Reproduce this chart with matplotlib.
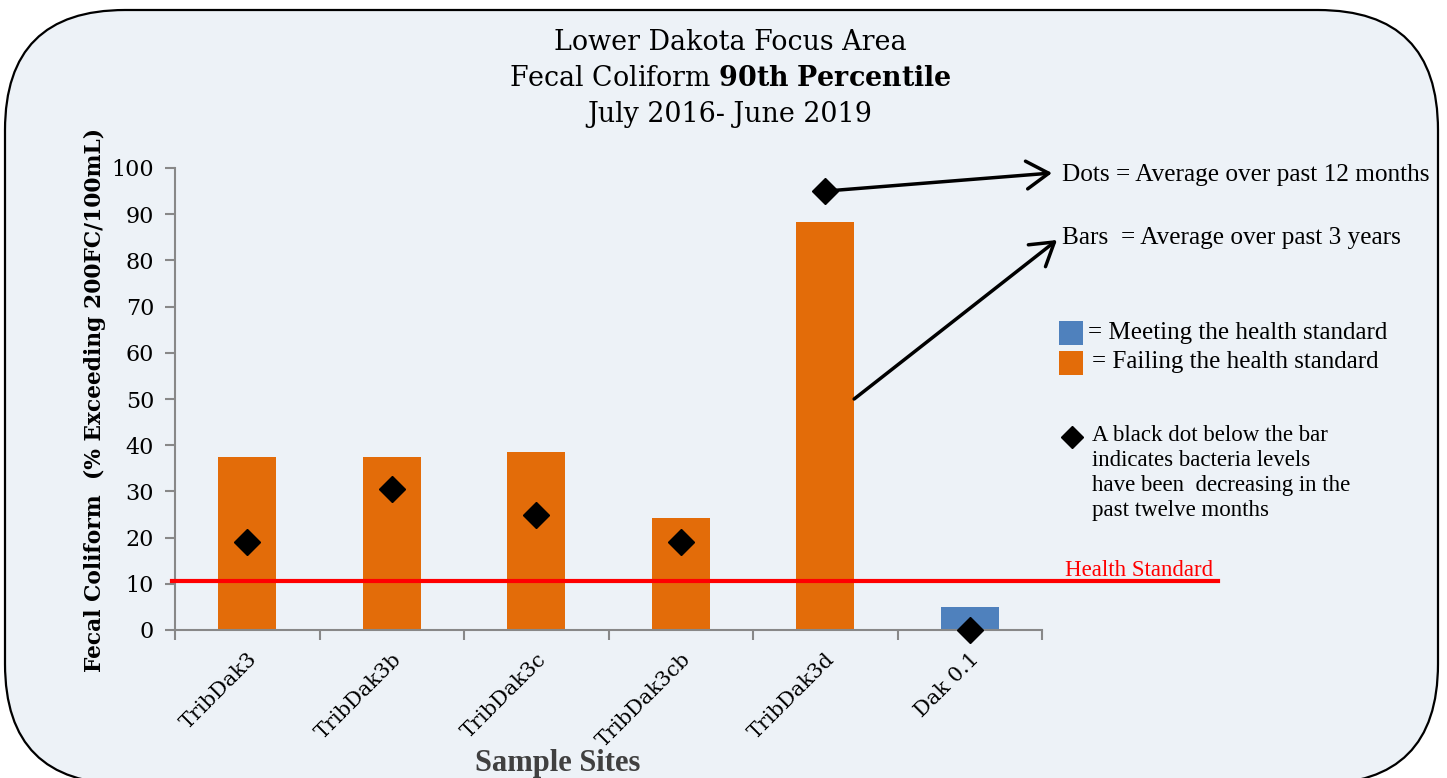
import matplotlib
matplotlib.use('Agg')
import matplotlib.pyplot as plt
from matplotlib.patches import FancyBboxPatch, Rectangle
from matplotlib.lines import Line2D

plt.rcParams['mathtext.fontset'] = 'dejavuserif'

# data
sites = ['TribDak3', 'TribDak3b', 'TribDak3c', 'TribDak3cb', 'TribDak3d', 'Dak 0.1']
bars_3yr = [37.5, 37.5, 38.5, 24.3, 88.3, 5.0]
dots_12mo = [19.0, 30.5, 25.0, 19.0, 95.0, 0.0]
meets = [False, False, False, False, False, True]
health_std = 10.5

ORANGE = '#E36C09'
BLUE = '#4F81BD'
BG = '#EDF2F7'
W, H = 1447, 778

def fx(px):
    return px / W

def fy(py):
    return 1 - py / H

fig = plt.figure(figsize=(14.47, 7.78), dpi=100)
fig.patch.set_facecolor('white')

# rounded frame (bottom edge sits just below the picture)
frame = FancyBboxPatch((5, -6), 1433, 774, boxstyle='round,pad=0,rounding_size=120',
                       transform=None, facecolor=BG, edgecolor='black', linewidth=1.6,
                       zorder=-5)
fig.patches.append(frame)

ax = fig.add_axes([fx(175), fy(630), fx(1042) - fx(175), fy(168) - fy(630)])
ax.patch.set_alpha(0)
ax.set_zorder(1)

x = list(range(len(sites)))
colors = [BLUE if m else ORANGE for m in meets]
ax.bar(x, bars_3yr, width=0.4, color=colors, zorder=2)
ax.plot(x, dots_12mo, linestyle='none', marker='D', markersize=13,
        color='black', zorder=4, clip_on=False)

ax.set_xlim(-0.5, len(sites) - 0.5)
ax.set_ylim(0, 100)
ax.set_yticks(range(0, 101, 10))
ax.set_xticks(x)
ax.set_xticks([i - 0.5 for i in range(len(sites) + 1)], minor=True)
ax.set_xticklabels(sites, rotation=45, ha='right', rotation_mode='anchor',
                   fontsize=15, family='DejaVu Serif')
for lab in ax.get_yticklabels():
    lab.set_fontsize(16)
    lab.set_family('DejaVu Serif')
ax.tick_params(axis='x', which='major', length=0, pad=14)
ax.tick_params(axis='x', which='minor', length=7, width=1.5, color='#888888')
ax.tick_params(axis='y', length=7, width=1.5, color='#888888', pad=8)

for s in ['top', 'right']:
    ax.spines[s].set_visible(False)
for s in ['left', 'bottom']:
    ax.spines[s].set_color('#888888')
    ax.spines[s].set_linewidth(1.5)

# health standard line, running past the axes
ax.axhline(health_std, xmin=-0.004, xmax=(1218 - 175) / (1042 - 175),
           color='red', linewidth=3, clip_on=False, zorder=3)
fig.text(fx(1065), fy(571), 'Health Standard', color='red', fontsize=16.5,
         family='Liberation Serif', va='center', ha='left')

# titles and labels
fig.text(fx(730), fy(42), 'Lower Dakota Focus Area', fontsize=19.4,
         family='DejaVu Serif', ha='center', va='center')
fig.text(fx(730), fy(78), 'Fecal Coliform $\\mathbf{90th\\ Percentile}$', fontsize=19.4,
         family='DejaVu Serif', ha='center', va='center')
fig.text(fx(730), fy(115), 'July 2016- June 2019', fontsize=19.4,
         family='DejaVu Serif', ha='center', va='center')

fig.text(fx(95), fy(400), 'Fecal Coliform  (% Exceeding 200FC/100mL)', rotation=90,
         fontsize=15.7, fontweight='bold', family='DejaVu Serif', ha='center', va='center')
fig.text(fx(558), fy(763), 'Sample Sites', fontsize=22, fontweight='bold',
         family='Liberation Serif', color='#404040', ha='center', va='center')

# annotations on the right
fig.text(fx(1062), fy(175), 'Dots = Average over past 12 months', fontsize=18.2,
         family='Liberation Serif', ha='left', va='center')
fig.text(fx(1062), fy(238), 'Bars  = Average over past 3 years', fontsize=18.2,
         family='Liberation Serif', ha='left', va='center')

arrow = dict(arrowstyle='->,head_length=0.8,head_width=0.5', lw=2.5, color='black',
             mutation_scale=20, shrinkA=6, shrinkB=0)
ax.annotate('', xy=(fx(1052), fy(173)), xycoords='figure fraction',
            xytext=(4, dots_12mo[4]), textcoords='data', arrowprops=arrow)
ax.annotate('', xy=(fx(1057), fy(240)), xycoords='figure fraction',
            xytext=(4.2, 50), textcoords='data',
            arrowprops=dict(arrow, shrinkA=0))

fig.patches.append(Rectangle((fx(1059), fy(345)), fx(24), 24 / H,
                             transform=fig.transFigure, facecolor=BLUE, zorder=2))
fig.patches.append(Rectangle((fx(1059), fy(375)), fx(24), 24 / H,
                             transform=fig.transFigure, facecolor=ORANGE, zorder=2))
fig.text(fx(1088), fy(333), '= Meeting the health standard', fontsize=18,
         family='Liberation Serif', ha='left', va='center')
fig.text(fx(1092), fy(362), '= Failing the health standard', fontsize=18,
         family='Liberation Serif', ha='left', va='center')

fig.lines.append(Line2D([fx(1072)], [fy(437)], transform=fig.transFigure,
                        marker='D', markersize=11, color='black', linestyle='none'))
fig.text(fx(1092), fy(425),
         'A black dot below the bar\nindicates bacteria levels\nhave been  decreasing in the\npast twelve months',
         fontsize=16.5, family='Liberation Serif', ha='left', va='top', linespacing=1.25)

fig.savefig('out.png', dpi=100)
